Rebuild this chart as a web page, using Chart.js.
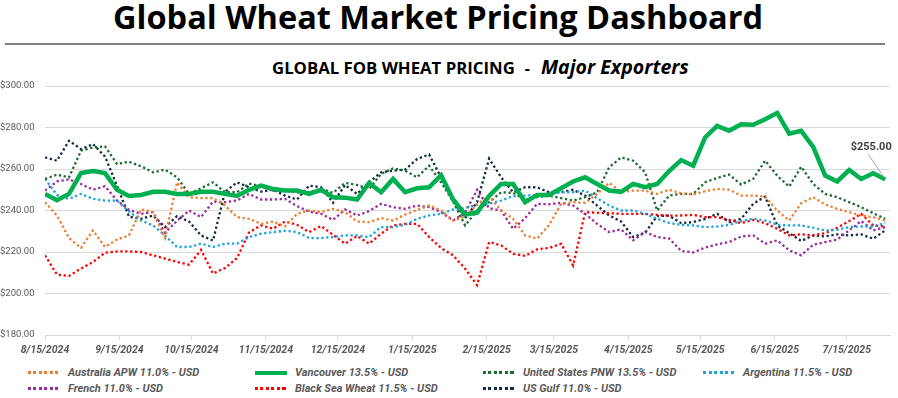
<!DOCTYPE html>
<html>
<head>
<meta charset="utf-8">
<script src="https://cdn.jsdelivr.net/npm/chart.js@4.4.1/dist/chart.umd.min.js"></script>
<style>
  body { margin: 0; width: 898px; height: 398px; background: #fff; overflow: hidden; position: relative; font-family: Roboto, sans-serif; }
  #title { position: absolute; top: 1px; left: 0; width: 876px; text-align: center; }
  #title span { font: bold 30px 'Open Sans', sans-serif; line-height: 1; white-space: nowrap; display: inline-block; color: #000; }
  #rule { position: absolute; top: 43px; left: 5px; width: 880px; height: 2px; background: #808080; }
  #subtitle { position: absolute; top: 55px; left: 272px; white-space: nowrap; }
  #subtitle span { display: inline-block; font: bold 16px 'Open Sans', sans-serif; line-height: 1.2; color: #000; vertical-align: baseline; }
  #subtitle .dash { margin: 0 11px 0 10px; }
  #subtitle .it { font-style: italic; font-size: 17px; }
  #chartBox { position: absolute; top: 72px; left: 0; width: 898px; height: 290px; }
  .leg { position: absolute; height: 14px; font: italic bold 11px Roboto, sans-serif; color: #595959; white-space: nowrap; }
  .leg .swatch { position: absolute; left: 0; top: 5px; width: 32px; height: 3px; }
  .leg .txt { position: absolute; left: 40px; top: 0; line-height: 14px; }
</style>
</head>
<body>
<div id="title"><span id="titleText">Global Wheat Market Pricing Dashboard</span></div>
<div id="rule"></div>
<div id="subtitle"><span id="subA">GLOBAL FOB WHEAT PRICING</span><span class="dash">-</span><span class="it" id="subB">Major Exporters</span></div>
<div id="chartBox"><canvas id="wheatChart"></canvas></div>
<div id="legend"></div>
<script>
const dates = [
  '2024-08-15', '2024-08-20', '2024-08-25', '2024-08-30', '2024-09-04', '2024-09-09', '2024-09-14', '2024-09-19',
  '2024-09-24', '2024-09-29', '2024-10-04', '2024-10-09', '2024-10-14', '2024-10-19', '2024-10-24', '2024-10-29',
  '2024-11-03', '2024-11-08', '2024-11-13', '2024-11-18', '2024-11-23', '2024-11-28', '2024-12-03', '2024-12-08',
  '2024-12-13', '2024-12-18', '2024-12-23', '2024-12-28', '2025-01-02', '2025-01-07', '2025-01-12', '2025-01-17',
  '2025-01-22', '2025-01-27', '2025-02-01', '2025-02-06', '2025-02-11', '2025-02-16', '2025-02-21', '2025-02-26',
  '2025-03-03', '2025-03-08', '2025-03-13', '2025-03-18', '2025-03-23', '2025-03-28', '2025-04-02', '2025-04-07',
  '2025-04-12', '2025-04-17', '2025-04-22', '2025-04-27', '2025-05-02', '2025-05-07', '2025-05-12', '2025-05-17',
  '2025-05-22', '2025-05-27', '2025-06-01', '2025-06-06', '2025-06-11', '2025-06-16', '2025-06-21', '2025-06-26',
  '2025-07-01', '2025-07-06', '2025-07-11', '2025-07-16', '2025-07-21', '2025-07-26', '2025-07-31'
];
const tickLabels = ['8/15/2024', '9/15/2024', '10/15/2024', '11/15/2024', '12/15/2024', '1/15/2025',
  '2/15/2025', '3/15/2025', '4/15/2025', '5/15/2025', '6/15/2025', '7/15/2025'];

const australia = [244, 237.6, 226.7, 222, 230.4, 222.4, 226, 228, 240.5, 239.2, 226.8, 253.6, 246.4, 246, 246, 242.4,
  236.8, 236, 233.6, 234.7, 232.3, 238.4, 240, 239.2, 240.8, 239.2, 234.7, 234.4, 236.3, 235.2, 238, 240.3,
  242.4, 240, 235.2, 237, 243, 247, 240, 236, 228, 226.5, 233, 243.2, 244, 243.7, 248, 253.3,
  249, 249.6, 249.6, 248, 250, 248.3, 247.7, 249.3, 250.4, 250, 247.2, 247.2, 246.7, 240, 235.2, 243.5,
  246.4, 242.9, 240.8, 239.2, 237.6, 236.8, 235.2];
const vancouver = [248, 245, 248, 258, 259, 258, 250, 247, 247.5, 249, 249, 248, 248, 249, 249, 248,
  247, 250, 252, 250.4, 249.6, 249.6, 248, 250, 246.4, 246.2, 245.3, 253.3, 248.8, 255.2, 248.8, 250.7,
  251.2, 257, 245.3, 238, 239, 247, 252.8, 252.8, 244, 247.5, 247.5, 250.7, 254, 256, 252.8, 249.6,
  249, 252.8, 251.2, 252.8, 259, 264.3, 261.6, 275.2, 280.8, 278.4, 281.6, 281.3, 284, 287, 277, 278.4,
  270.7, 256.8, 254, 259.5, 255.2, 258, 255];
const unitedStatesPnw = [255.2, 257.3, 256, 268.8, 270.4, 270.9, 262.4, 263.5, 261.3, 258.4, 259.7, 256, 248, 250.7, 253.6, 248.8,
  248.8, 253, 251.7, 249.6, 249.6, 248.8, 248.8, 250.4, 248.5, 253.3, 252.3, 250.4, 257.6, 260.3, 259.2, 256,
  261.6, 253.6, 244.3, 232.8, 240, 244, 248.8, 248.5, 245.3, 246.4, 247.2, 246, 244.8, 246.4, 248.8, 260.8,
  265.6, 264, 258.4, 240, 247.2, 248, 248, 253.6, 255.7, 257.3, 252.5, 255.2, 264, 256.8, 251.5, 261.1,
  252.8, 248, 246.4, 244, 241.6, 238.7, 236];
const argentina = [255.2, 247.5, 245.6, 248, 245.6, 244.8, 244.8, 239.5, 235.2, 232.8, 228, 222.4, 222.4, 224, 222.4, 224,
  224, 227.2, 228.8, 229.6, 230.2, 229.6, 226.7, 226.7, 227.2, 228, 228, 227.2, 232, 232, 233.1, 236,
  237.6, 238.4, 240.5, 241.1, 242.9, 243.2, 244.8, 246.9, 247.2, 247.5, 247.8, 248.8, 248.8, 249.6, 245.9, 242.4,
  240, 240, 238.4, 236, 234, 233.1, 232.8, 232, 232.3, 233.1, 234.9, 236, 235.2, 233.1, 232.8, 232.8,
  231.7, 230.4, 230.7, 232, 232.3, 232.3, 234];
const french = [249.6, 254, 255, 252.8, 250, 251.7, 244.8, 240.3, 238.4, 239.2, 229.3, 235, 240, 236.8, 244.3, 244,
  244.8, 248, 245.3, 245.3, 245.6, 242.1, 239.5, 238.4, 235.5, 240.5, 237.6, 239.7, 243.2, 241.6, 240.8, 242.4,
  241.6, 239.2, 235.2, 238.9, 250, 241.1, 240, 231.2, 236.3, 243.2, 243, 243.7, 242.4, 238.4, 233.6, 229.6,
  230.9, 225.6, 229.6, 227.2, 226.5, 220.5, 219.8, 222.1, 223.7, 224.8, 227.5, 228, 224, 225.6, 220.8, 218.4,
  223.5, 224.8, 226, 230.4, 234.9, 230.4, 232];
const blackSea = [218.4, 209.1, 208.5, 212, 215.2, 219.7, 220.3, 220.3, 220, 218.4, 216.8, 215.2, 213.9, 221, 209.6, 212.3,
  217.1, 229.4, 232.8, 231.2, 234.7, 233.1, 229.6, 232.5, 228.3, 224, 227.7, 224, 228.8, 232.8, 233.6, 233.6,
  227.2, 221.9, 218.4, 212, 204, 224.8, 223.2, 219.2, 218.1, 221.3, 221.9, 224, 213.5, 239.2, 238.9, 238.7,
  238.4, 238.4, 238.4, 237.9, 237.5, 237.6, 237.9, 236.8, 236.8, 235.5, 233.9, 235.5, 233.9, 231.2, 228, 228.5,
  228, 229.1, 231.7, 234.9, 238.4, 232.8, 232.3];
const usGulf = [265.6, 264, 273.6, 269.6, 272, 266, 252, 237, 236, 237.6, 232, 237.3, 234.7, 228, 225.5, 249,
  253.6, 251.2, 249.1, 250, 247.2, 245.3, 252, 251.2, 243.7, 252.3, 248, 253.6, 258.4, 259.2, 259.7, 264.8,
  267, 256, 244.8, 236.3, 244, 265, 256, 248.8, 251.2, 251.2, 248.8, 248.8, 250, 247.2, 242.4, 237.6,
  234.7, 227.2, 229.3, 237.3, 237.5, 233.9, 234.4, 236, 238.4, 234.4, 236, 243.2, 246.7, 232.8, 229.1, 225.3,
  228, 227.5, 228.5, 228, 228.5, 226.4, 230.4];

const seriesNames = ['Australia APW 11.0% - USD', 'Vancouver 13.5% - USD', 'United States PNW 13.5% - USD',
  'Argentina 11.5% - USD', 'French 11.0% - USD', 'Black Sea Wheat 11.5% - USD', 'US Gulf 11.0% - USD'];
const seriesValues = [australia, vancouver, unitedStatesPnw, argentina, french, blackSea, usGulf];
const seriesColors = ['#ed7d31', '#00b050', '#1d6b34', '#1fa3dc', '#9c2a9c', '#ff0000', '#142b44'];

const DAY = 86400000;
const start = Date.parse(dates[0]);
const days = dates.map((d) => (Date.parse(d) - start) / DAY);
const tickDays = tickLabels.map((t) => {
  const [m, d, y] = t.split('/').map(Number);
  return (Date.UTC(y, m - 1, d) - start) / DAY;
});

function fitWidth(el, target) {
  const w = el.getBoundingClientRect().width;
  const fs = parseFloat(getComputedStyle(el).fontSize);
  el.style.fontSize = (fs * target / w) + 'px';
}
fitWidth(document.getElementById('titleText'), 650);
fitWidth(document.getElementById('subA'), 243);
fitWidth(document.getElementById('subB'), 148);

const datasets = seriesNames.map((name, i) => {
  const solid = i === 1;
  return {
    label: name,
    data: seriesValues[i].map((v, j) => ({ x: days[j], y: v })),
    borderColor: seriesColors[i],
    backgroundColor: seriesColors[i],
    borderWidth: solid ? 4.5 : 2.3,
    borderDash: solid ? [] : [2.3, 2.6],
    pointRadius: 0,
    tension: 0,
    fill: false,
    order: solid ? 0 : 1,
  };
});

// $255.00 callout on the last Vancouver point
const lastLabel = {
  id: 'lastLabel',
  afterDatasetsDraw(chart) {
    const meta = chart.getDatasetMeta(1);
    const pt = meta.data[meta.data.length - 1];
    const val = vancouver[vancouver.length - 1];
    const ctx = chart.ctx;
    ctx.save();
    ctx.strokeStyle = '#a6a6a6';
    ctx.lineWidth = 1;
    ctx.beginPath();
    ctx.moveTo(pt.x - 17, pt.y - 25);
    ctx.lineTo(pt.x - 1, pt.y - 2);
    ctx.stroke();
    ctx.fillStyle = '#404040';
    ctx.font = 'bold 11px Roboto, sans-serif';
    ctx.textAlign = 'center';
    ctx.textBaseline = 'middle';
    ctx.fillText('$' + val.toFixed(2), pt.x - 14, pt.y - 32);
    ctx.restore();
  },
};

const chart = new Chart(document.getElementById('wheatChart'), {
  type: 'line',
  data: { datasets },
  options: {
    responsive: true,
    maintainAspectRatio: false,
    animation: false,
    layout: { padding: { top: 14, right: 8, left: 0, bottom: 0 } },
    plugins: { legend: { display: false }, tooltip: { enabled: false } },
    scales: {
      x: {
        type: 'linear',
        min: 0,
        max: 352,
        afterBuildTicks: (scale) => { scale.ticks = tickDays.map((v) => ({ value: v })); },
        afterFit: (scale) => { scale.height = 27; },
        ticks: {
          autoSkip: false,
          maxRotation: 0,
          padding: 4,
          color: '#595959',
          font: { family: 'Roboto', size: 10.5, weight: 'bold', style: 'italic' },
          callback: (v, i) => tickLabels[i],
        },
        grid: { drawOnChartArea: false, drawTicks: true, tickLength: 5, color: '#d9d9d9' },
        border: { color: '#d9d9d9' },
      },
      y: {
        min: 180,
        max: 300,
        afterFit: (scale) => { scale.width = 45; },
        ticks: {
          stepSize: 20,
          crossAlign: 'far',
          color: '#595959',
          font: { family: 'Roboto', size: 9.5 },
          callback: (v) => '$' + v.toFixed(2),
        },
        grid: { color: '#d9d9d9', drawTicks: false },
        border: { display: false },
      },
    },
  },
  plugins: [lastLabel],
});

// legend laid out in four fixed columns like the source
const legend = document.getElementById('legend');
const colX = [28, 255, 483, 703];
seriesNames.forEach((name, i) => {
  const item = document.createElement('div');
  item.className = 'leg';
  item.style.left = colX[i % 4] + 'px';
  item.style.top = (i < 4 ? 366 : 382) + 'px';
  const sw = document.createElement('div');
  sw.className = 'swatch';
  if (i === 1) {
    sw.style.background = seriesColors[i];
    sw.style.height = '4px';
  } else {
    sw.style.background = `repeating-linear-gradient(to right, ${seriesColors[i]} 0 3px, transparent 3px 5.5px)`;
  }
  const txt = document.createElement('div');
  txt.className = 'txt';
  txt.textContent = name;
  item.appendChild(sw);
  item.appendChild(txt);
  legend.appendChild(item);
});
</script>
</body>
</html>
